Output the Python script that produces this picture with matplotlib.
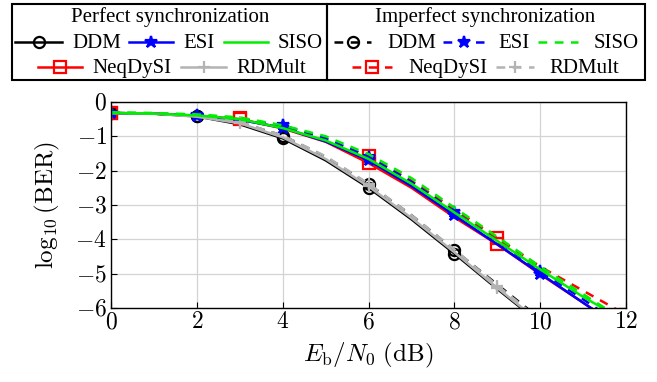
import numpy as np
import matplotlib.pyplot as plt
from matplotlib.lines import Line2D
from matplotlib.patches import Rectangle
from matplotlib.ticker import FuncFormatter

plt.rcParams['font.family'] = ['Liberation Serif', 'DejaVu Serif']
plt.rcParams['mathtext.fontset'] = 'cm'

# Eb/N0 (dB)
snr = [0, 1, 2, 3, 4, 5, 6, 7, 8, 9, 10, 11, 12]

# log10(BER), perfect synchronization
ddm_p = [-0.32, -0.34, -0.42, -0.65, -1.06, -1.70, -2.50, -3.42, -4.42, -5.45, -6.45, -7.4, -8.3]
esi_p = [-0.32, -0.34, -0.40, -0.52, -0.75, -1.15, -1.70, -2.45, -3.30, -4.15, -5.00, -5.85, -6.70]
siso_p = [-0.32, -0.34, -0.39, -0.50, -0.76, -1.12, -1.66, -2.38, -3.22, -4.05, -4.88, -5.68, -6.40]
neq_p = [-0.32, -0.34, -0.40, -0.50, -0.77, -1.16, -1.78, -2.50, -3.36, -4.15, -5.02, -5.85, -6.70]
rdm_p = [-0.32, -0.34, -0.43, -0.62, -1.03, -1.66, -2.46, -3.38, -4.38, -5.42, -6.42, -7.4, -8.3]

# log10(BER), imperfect synchronization
ddm_i = [-0.32, -0.33, -0.40, -0.60, -0.98, -1.60, -2.40, -3.30, -4.32, -5.32, -6.32, -7.3, -8.2]
esi_i = [-0.32, -0.34, -0.39, -0.50, -0.68, -1.06, -1.60, -2.33, -3.20, -4.05, -4.93, -5.75, -6.60]
siso_i = [-0.30, -0.32, -0.36, -0.45, -0.68, -1.00, -1.52, -2.22, -3.08, -3.93, -4.80, -5.60, -6.40]
neq_i = [-0.32, -0.34, -0.40, -0.47, -0.72, -1.08, -1.58, -2.30, -3.12, -3.97, -4.80, -5.50, -6.20]
rdm_i = [-0.32, -0.33, -0.41, -0.58, -0.98, -1.58, -2.38, -3.30, -4.30, -5.35, -6.35, -7.3, -8.2]

W, H = 657, 382
fig = plt.figure(figsize=(W / 100, H / 100), dpi=100)
ax = fig.add_axes([0.169, 0.194, 0.784, 0.539])

lw = 1.8
dash = (0, (3.5, 3))
styles = {
    'DDM': (ddm_p, ddm_i, 'black', 'o', 2),
    'NeqDySI': (neq_p, neq_i, 'red', 's', 3),
    'ESI': (esi_p, esi_i, 'blue', '*', 2),
    'RDMult': (rdm_p, rdm_i, '#b3b3b3', '+', 3),
    'SISO': (siso_p, siso_i, '#00ee00', None, 1),
}


def mkw(c, m):
    return dict(color=c, lw=lw, marker=m, ms=9 if m != 'o' else 8,
                mfc='none' if m in ('o', 's') else c, mec=c, mew=1.6)


for name, (yp, yi, c, m, every) in styles.items():
    ax.plot(snr, yp, ls='-', markevery=every, **mkw(c, m))
    ax.plot(snr, yi, ls=dash, markevery=every, **mkw(c, m))

ax.set_xlim(0, 12)
ax.set_ylim(-6, 0)
ax.set_xticks(range(0, 13, 2))
ax.set_yticks(range(-6, 1))
ax.xaxis.set_major_formatter(FuncFormatter(lambda v, p: f'${v:g}$'))
ax.yaxis.set_major_formatter(FuncFormatter(lambda v, p: f'${v:g}$'))
ax.tick_params(labelsize=17, direction='in', length=4, pad=3)
ax.grid(True, color='#d3d3d3', lw=0.9)
ax.set_axisbelow(True)
for s in ax.spines.values():
    s.set_linewidth(1.0)
ax.set_xlabel(r'$E_{\mathrm{b}}/N_0\ (\mathrm{dB})$', fontsize=18, labelpad=6)
ax.set_ylabel(r'$\log_{10}(\mathrm{BER})$', fontsize=18, labelpad=10)


# hand-built legend boxes (pixel layout of the original)
def fx(px):
    return px / W


def fy(py):
    return 1 - py / H


def legend_box(x0, x1, title, tcx, entries, ls):
    fig.add_artist(Rectangle((fx(x0), fy(80)), fx(x1) - fx(x0), fy(4) - fy(80),
                             transform=fig.transFigure, fill=False, ec='black', lw=1.5))
    fig.text(fx(tcx), fy(22), title, ha='center', va='baseline', fontsize=15)
    for name, hx0, hx1, tx, row in entries:
        c, m = styles[name][2], styles[name][3]
        yc = fy(42) if row == 0 else fy(67)
        yb = fy(48) if row == 0 else fy(73)
        kw = mkw(c, m)
        fig.add_artist(Line2D([fx(hx0), fx(hx1)], [yc, yc], transform=fig.transFigure,
                              ls=ls, color=c, lw=lw))
        if m is not None:
            kw.pop('lw')
            kw.pop('color')
            fig.add_artist(Line2D([fx((hx0 + hx1) / 2)], [yc], transform=fig.transFigure,
                                  ls='none', color=c, **kw))
        fig.text(fx(tx), yb, name, ha='left', va='baseline', fontsize=15)


legend_box(12, 327, 'Perfect synchronization', 170,
           [('DDM', 15, 62, 72, 0), ('ESI', 129, 173, 183, 0), ('SISO', 224, 268, 278, 0),
            ('NeqDySI', 38, 82, 92, 1), ('RDMult', 181, 226, 236, 1)], '-')
legend_box(327, 645, 'Imperfect synchronization', 485,
           [('DDM', 334, 371, 387, 0), ('ESI', 443, 484, 498, 0), ('SISO', 538, 578, 594, 0),
            ('NeqDySI', 352, 392, 408, 1), ('RDMult', 496, 534, 549, 1)], dash)

fig.savefig('out.png', dpi=100)
